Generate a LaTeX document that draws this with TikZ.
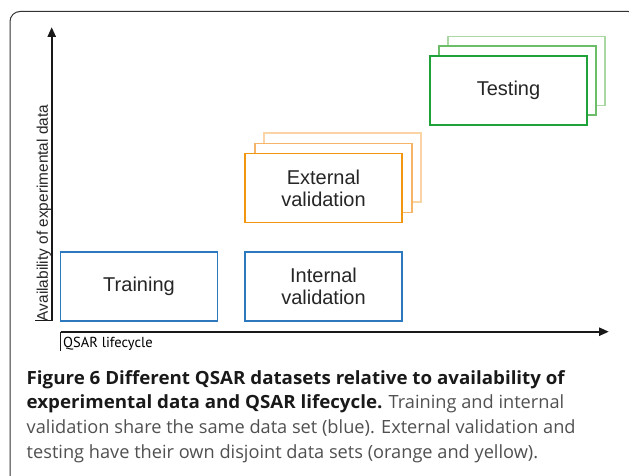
\documentclass[tikz,border=0pt]{standalone}
\usepackage{fontspec}
\setmainfont{Liberation Sans}
\newfontfamily\capfont[BoldFeatures={FakeStretch=1.03}]{Open Sans}
\newfontfamily\axisfont{PT Sans}
\usetikzlibrary{arrows.meta}

\definecolor{setblue}{HTML}{2C79BE}
\definecolor{extorange}{HTML}{F2960F}
\definecolor{extorangemid}{HTML}{F5B468}
\definecolor{extorangelight}{HTML}{FAD4A4}
\definecolor{testgreen}{HTML}{20A23A}
\definecolor{testgreenmid}{HTML}{6CBD6A}
\definecolor{testgreenlight}{HTML}{AAD8A2}
\definecolor{captiongray}{HTML}{505050}

\begin{document}
\begin{tikzpicture}[x=1pt,y=-1pt,
        dataset/.style={draw, line width=1.6pt, fill=white, minimum width=157pt,
            minimum height=69pt, inner sep=0pt, align=center, text=black!85,
            font=\fontsize{20}{22}\selectfont},
        axis/.style={line width=2.4pt, black!90, -{Triangle[length=10pt,width=8pt]}}]
    \useasboundingbox (0,0) rectangle (629,476);
    \clip (0,0) rectangle (629,476);

    % frame
    \draw[black!80, line width=1pt, rounded corners=10pt] (10,11.5) rectangle (638,486);

    % axes
    \coordinate (yfoot) at (51.7,320.7);
    \coordinate (ytop) at (51.7,27);
    \coordinate (xfoot) at (60.5,331.7);
    \coordinate (xend) at (609,331.7);
    \draw[axis] (yfoot) -- (ytop);
    \draw[black!90, line width=1pt] (35,320.7) -- (yfoot);
    \draw[axis] (xfoot) -- (xend);
    \draw[black!90, line width=1pt] (xfoot) -- (60.5,351);
    \node[rotate=90, inner sep=0pt, font=\fontsize{15.4}{17}\selectfont, text=black!85]
        (ylabel) at (44,213) {Availability of experimental data};
    \node[anchor=base west, inner sep=0pt, font=\axisfont\fontsize{14.5}{17}\selectfont]
        (xlabel) at (63,347.5) {QSAR lifecycle};

    % training and internal validation
    \node[dataset, draw=setblue] (train) at (139,286.7) {Training};
    \node[dataset, draw=setblue] (intval) at (323.5,286.5) {Internal\\validation};

    % external validation
    \node[dataset, draw=extorangelight] (extval3) at (342.5,167.5) {};
    \node[dataset, draw=extorangemid] (extval2) at (333.3,178) {};
    \node[dataset, draw=extorange] (extval) at (323.5,188) {External\\validation};

    % testing
    \node[dataset, draw=testgreenlight] (test3) at (526.3,71.2) {};
    \node[dataset, draw=testgreenmid] (test2) at (517.4,80.8) {};
    \node[dataset, draw=testgreen] (test) at (508.5,90.3) {Testing};

    % caption
    \node[anchor=base west, inner sep=0pt, align=left, text=captiongray,
        font=\capfont\fontsize{18.2}{24.6}\selectfont] (caption) at (26.5,458)
        {\textbf{\color{black!90}Figure 6 Different QSAR datasets relative to availability of}\\
         \textbf{\color{black!90}experimental data and QSAR lifecycle.} Training and internal\\
         validation share the same data set (blue). External validation and\\
         testing have their own disjoint data sets (orange and yellow).};
\end{tikzpicture}
\end{document}
